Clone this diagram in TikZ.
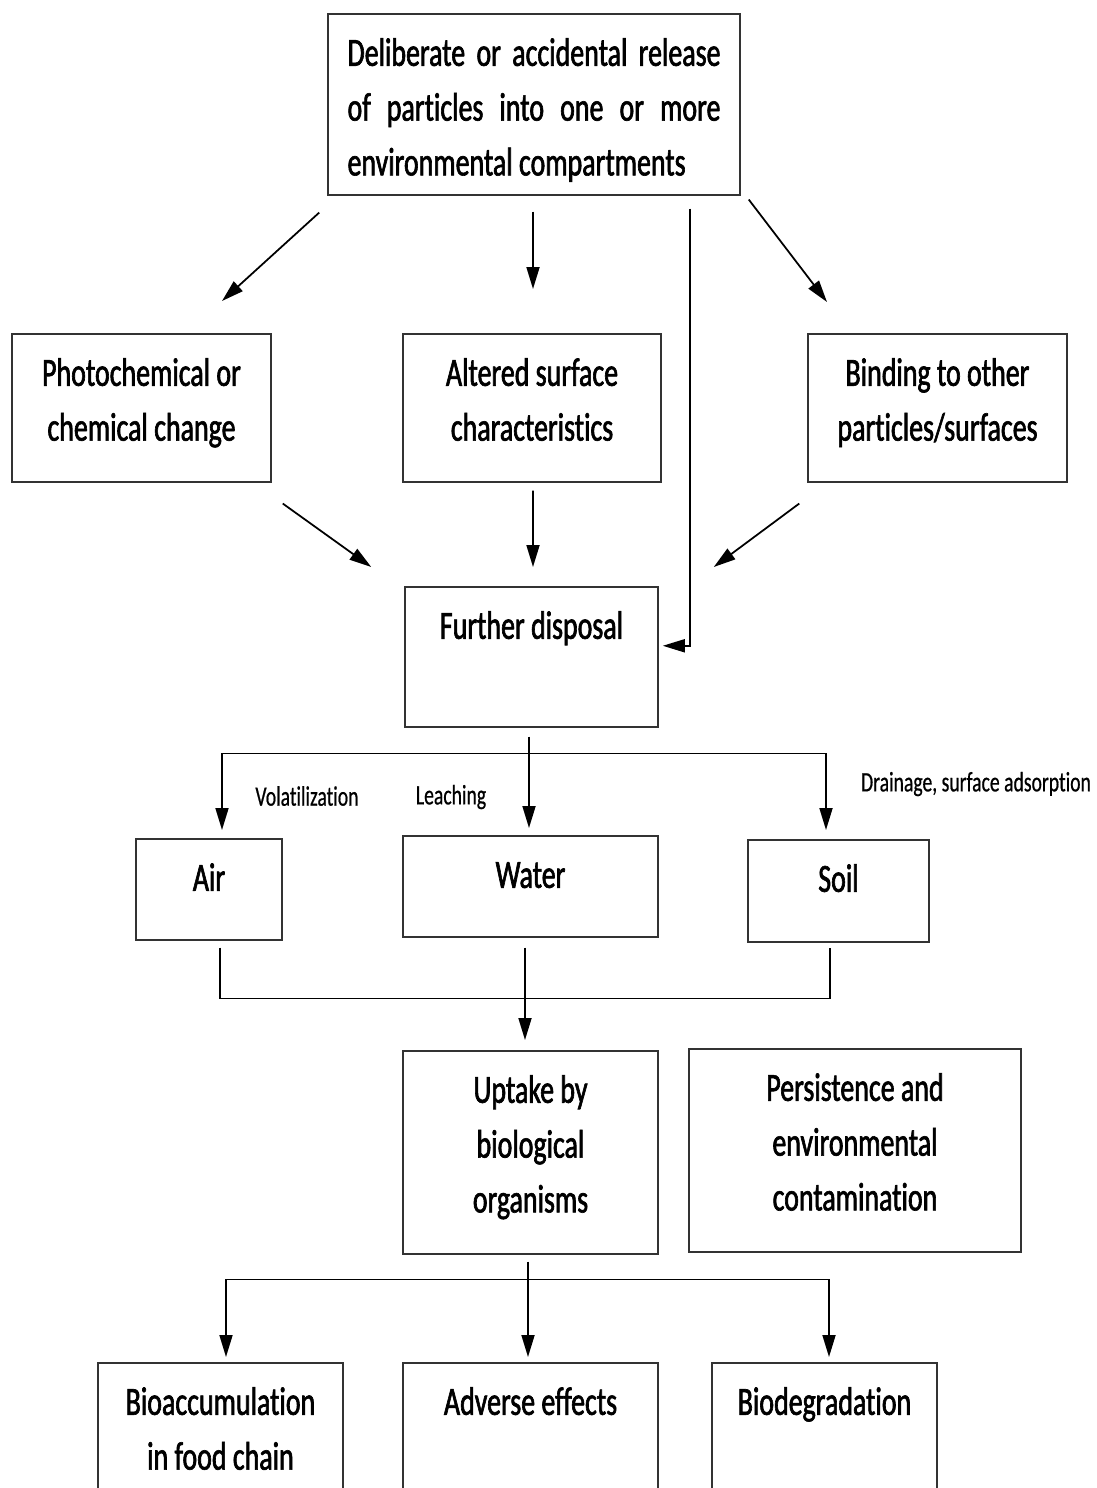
\documentclass[tikz,border=0pt]{standalone}
\usepackage{fontspec}
\setmainfont{Carlito}[FakeStretch=0.7,FakeBold=0.6,Ligatures=NoCommon]
\newfontfamily\boxfont{Carlito}[FakeStretch=0.7,FakeBold=1.6,Ligatures=NoCommon]
\usetikzlibrary{arrows.meta,calc}

\begin{document}
\begin{tikzpicture}[x=0.02cm,y=-0.02cm]
\tikzstyle{block} = [rectangle, draw=black!80, line width=0.9pt, anchor=north, align=flush center,
inner sep=0pt, text height=1.04cm, font=\boxfont\fontsize{22.7}{31.2}\selectfont]
\tikzstyle{line} = [draw, line width=1pt, -{Triangle[length=0.44cm,width=0.26cm]}]
\tikzstyle{tie} = [draw, line width=0.8pt]
\tikzstyle{flowlabel} = [font=\fontsize{16}{19}\selectfont, inner sep=0pt]

\useasboundingbox (0,0) rectangle (1097,1488);
\clip (0,0) rectangle (1097,1488);

% row 1
\node [block, inner xsep=0.39cm, text width=7.46cm, text depth=2.58cm, align=justify] (release) at (534,13)
{Deliberate or accidental release\linebreak of particles into one or more\linebreak environmental compartments};
% row 2
\node [block, text width=5.18cm, text depth=1.92cm] (photo_change) at (141.5,333) {Photochemical or\\chemical change};
\node [block, text width=5.16cm, text depth=1.92cm] (surface) at (532,333) {Altered surface\\characteristics};
\node [block, text width=5.18cm, text depth=1.92cm] (binding) at (937.5,333) {Binding to other\\particles/surfaces};
% row 3
\node [block, text width=5.06cm, text depth=1.76cm] (disposal) at (531.5,586) {Further disposal};
% row 4
\node [block, text width=2.92cm, text depth=0.98cm] (air) at (209,838) {Air};
\node [block, text width=5.1cm, text depth=0.98cm] (water) at (530.5,835) {Water};
\node [block, text width=3.62cm, text depth=1cm] (soil) at (838.5,839) {Soil};
% row 5
\node [block, text width=5.1cm, text depth=3.02cm] (uptake) at (530.5,1050) {Uptake by\\biological\\organisms};
\node [block, text width=6.64cm, text depth=3.02cm] (persist) at (855,1048) {Persistence and\\environmental\\contamination};
% row 6
\node [block, text width=4.9cm, text depth=3cm] (bioacc) at (220.5,1362) {Bioaccumulation\\in food chain};
\node [block, text width=5.1cm, text depth=3cm] (adverse) at (530.5,1362) {Adverse effects};
\node [block, text width=4.5cm, text depth=3cm] (biodeg) at (824.5,1362) {Biodegradation};

\node [flowlabel] (volat) at (307,796) {Volatilization};
\node [flowlabel] (leach) at (451,797) {Leaching};
\node [flowlabel] (drain) at (976,784) {Drainage, surface adsorption};

% release
\path[line] ($(release.south west)+(-8,17)$) -- ($(photo_change.north)+(80.5,-32)$);
\path[line] ($(release.south)+(-1,16)$) -- ($(surface.north)+(1,-44)$);
\path[line] ($(release.south east)+(8,4)$) -- ($(binding.north)+(-110.5,-31)$);
\path[line] ($(release.south east)+(-51,13)$) |- ($(disposal.east)+(4,-11)$);
% changes
\path[line] ($(photo_change.south east)+(11,21)$) -- ($(disposal.north west)+(-33,-19)$);
\path[line] ($(surface.south)+(1,8)$) -- ($(disposal.north)+(1.5,-19)$);
\path[line] ($(binding.south west)+(-8,21)$) -- ($(disposal.north east)+(55,-19)$);
% compartments
\coordinate (split_top) at ($(disposal.south)+(-2.5,26)$);
\path[line] ($(disposal.south)+(-2.5,9)$) -- ($(water.north)+(-1.5,-7)$);
\path[line] (split_top) -| ($(air.north)+(13,-8)$);
\path[line] (split_top) -| ($(soil.north)+(-12.5,-9)$);
\path[tie] ($(air.south)+(11,7)$) |- ($(soil.south)+(-8.5,56)$) -- ($(soil.south)+(-8.5,5)$);
\path[line] ($(water.south)+(-5.5,10)$) -- ($(uptake.north)+(-5.5,-10)$);
% effects
\coordinate (split_bottom) at ($(uptake.south)+(-2.5,25)$);
\path[line] ($(uptake.south)+(-2.5,7)$) -- ($(adverse.north)+(-2.5,-5)$);
\path[line] (split_bottom) -| ($(bioacc.north)+(5.5,-5)$);
\path[line] (split_bottom) -| ($(biodeg.north)+(4.5,-5)$);

\end{tikzpicture}
\end{document}
